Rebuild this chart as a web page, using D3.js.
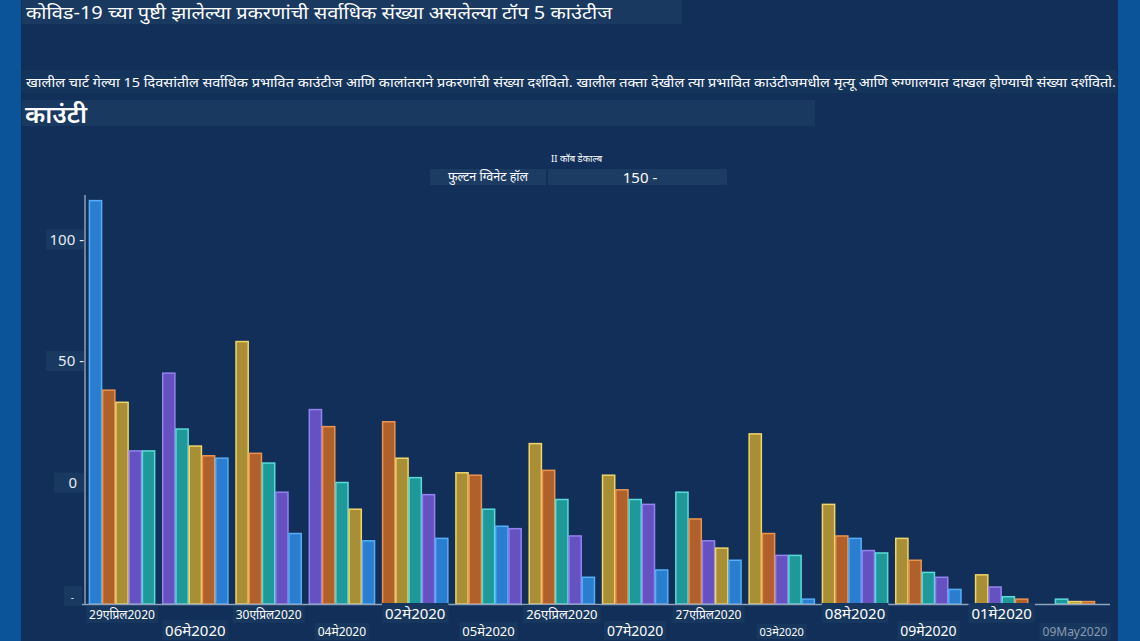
<!DOCTYPE html>
<html>
<head>
<meta charset="utf-8">
<script src="https://cdn.jsdelivr.net/npm/d3@7"></script>
<style>
  body { margin: 0; background: #0b5499; }
  svg text { font-family: "Noto Sans", "Noto Sans Devanagari", "Lato", sans-serif; }
</style>
</head>
<body>
<script>
var dates = ["29एप्रिल2020","06मे2020","30एप्रिल2020","04मे2020","02मे2020","05मे2020","26एप्रिल2020",
             "07मे2020","27एप्रिल2020","03मे2020","08मे2020","09मे2020","01मे2020","09May2020"];

var counties = ["फुल्टन","हॉल","ग्विनेट","कॉब","डेकाल्ब"];

var fulton   = [166, 60,  29, 26, 27, 32, 11, 14, 18,  2, 27,  6,  0, 0];
var hall     = [ 83, 65, 108, 39, 60, 54, 66, 53, 23, 70, 41, 27, 12, 1];
var gwinnett = [ 88, 61,  62, 73, 75, 53, 55, 47, 35, 29, 28, 18,  2, 1];
var cobb     = [ 63, 95,  46, 80, 45, 31, 28, 41, 26, 20, 22, 11,  7, 0];
var dekalb   = [ 63, 72,  58, 50, 52, 39, 43, 43, 46, 20, 21, 13,  3, 2];

var yTicks = [0, 50, 100, 150];
var yTickLabels = ["-", "0", "50 -", "100 -"];

var title = "कोविड-19 च्या पुष्टी झालेल्या प्रकरणांची सर्वाधिक संख्या असलेल्या टॉप 5 काउंटीज";
var subtitle = "खालील चार्ट गेल्या 15 दिवसांतील सर्वाधिक प्रभावित काउंटीज आणि कालांतराने प्रकरणांची संख्या दर्शवितो. खालील तक्ता देखील त्या प्रभावित काउंटीजमधील मृत्यू आणि रुग्णालयात दाखल होण्याची संख्या दर्शवितो.";
var heading = "काउंटी";

var series = [fulton, hall, gwinnett, cobb, dekalb];
var fills   = ["#2a7dcf", "#a88f36", "#b0602a", "#6551c0", "#1e9898"];
var strokes = ["#55aef6", "#f0d56a", "#eb9450", "#9384f0", "#5cdada"];
var labelSizes = [12, 15, 12, 12, 15, 13, 13, 14, 12, 11, 15, 14, 15, 12];

var W = 1140, H = 641;
var svg = d3.select("body").append("svg")
    .attr("width", W)
    .attr("height", H);

// page background and panel
svg.append("rect").attr("width", W).attr("height", H).attr("fill", "#0b5499");
svg.append("rect")
    .attr("x", 21).attr("y", 0)
    .attr("width", 1097).attr("height", H)
    .attr("fill", "#112f58");

// header texts with their boxes
svg.append("rect").attr("x", 22).attr("y", 0).attr("width", 660).attr("height", 24).attr("fill", "#1a3960");
svg.append("text").text(title)
    .attr("x", 26).attr("y", 19)
    .attr("fill", "#ffffff").attr("font-size", 18)
    .attr("textLength", 586).attr("lengthAdjust", "spacingAndGlyphs");

svg.append("rect").attr("x", 22).attr("y", 70).attr("width", 1095).attr("height", 23).attr("fill", "#15345c");
svg.append("text").text(subtitle)
    .attr("x", 26).attr("y", 87)
    .attr("fill", "#ffffff").attr("font-size", 13)
    .attr("textLength", 1090).attr("lengthAdjust", "spacingAndGlyphs");

svg.append("rect").attr("x", 22).attr("y", 100).attr("width", 793).attr("height", 26).attr("fill", "#1a3960");
svg.append("text").text(heading)
    .attr("x", 25).attr("y", 123)
    .attr("fill", "#ffffff").attr("font-size", 24).attr("font-weight", 600)
    .attr("textLength", 62).attr("lengthAdjust", "spacingAndGlyphs");

// scales
var baseY = 604;
var y = d3.scaleLinear().domain([0, 150]).range([baseY, 239.5]);

var x0 = d3.scaleBand()
    .domain(dates)
    .range([85, 1112])
    .paddingInner(0.11)
    .paddingOuter(0.06);

var barW = x0.bandwidth() / counties.length;

// legend (as it appears)
svg.append("text").text("II " + counties[3] + " " + counties[4])
    .attr("x", 551).attr("y", 162)
    .attr("fill", "#ffffff").attr("font-size", 9.5);
svg.append("rect").attr("x", 430).attr("y", 169).attr("width", 116).attr("height", 16).attr("fill", "#1c3c63");
svg.append("rect").attr("x", 548).attr("y", 169).attr("width", 179).attr("height", 16).attr("fill", "#1c3c63");
svg.append("text").text(counties[0] + " " + counties[2] + " " + counties[1])
    .attr("x", 488).attr("y", 181)
    .attr("text-anchor", "middle")
    .attr("fill", "#ffffff").attr("font-size", 12.5);
svg.append("text").text("150 -")
    .attr("x", 640).attr("y", 183)
    .attr("text-anchor", "middle")
    .attr("fill", "#ffffff").attr("font-size", 15);

// bars: each date sorted high to low, centred in its band
var groups = svg.selectAll("g.grp")
    .data(dates)
    .enter().append("g")
    .attr("class", "grp");

groups.each(function(d, i) {
    var items = series.map(function(s, k) { return {k: k, v: s[i]}; })
        .filter(function(e) { return e.v > 0; })
        .sort(function(a, b) { return b.v - a.v; });
    var c = x0(d) + x0.bandwidth() / 2;
    var x1 = d3.scaleBand()
        .domain(d3.range(items.length))
        .range([c - items.length * barW / 2, c + items.length * barW / 2])
        .paddingInner(0.08);
    d3.select(this).selectAll("rect")
        .data(items)
        .enter().append("rect")
        .attr("x", function(e, j) { return x1(j); })
        .attr("width", x1.bandwidth())
        .attr("y", function(e) { return y(e.v); })
        .attr("height", function(e) { return y(0) - y(e.v); })
        .attr("fill", function(e) { return fills[e.k]; })
        .attr("stroke", function(e) { return strokes[e.k]; })
        .attr("stroke-width", 1.5);
});

// axes lines
svg.append("line")
    .attr("x1", 85).attr("x2", 85)
    .attr("y1", 195).attr("y2", baseY)
    .attr("stroke", "#a9b9cc").attr("stroke-width", 1.2);
svg.append("line")
    .attr("x1", 78).attr("x2", 1110)
    .attr("y1", baseY + 0.5).attr("y2", baseY + 0.5)
    .attr("stroke", "#8ea3bb").attr("stroke-width", 1.5);

// y tick labels
var yl = svg.selectAll("g.ytick")
    .data(yTicks)
    .enter().append("g")
    .attr("class", "ytick");
yl.append("rect")
    .attr("x", function(d, i) { return i == 1 ? 54 : (i == 0 ? 64 : 46); })
    .attr("y", function(d) { return y(d) - (d == 0 ? 18 : 10); })
    .attr("width", function(d, i) { return i == 1 ? 30 : (i == 0 ? 18 : 38); })
    .attr("height", 20)
    .attr("fill", "#1a3960");
yl.append("text")
    .text(function(d, i) { return yTickLabels[i]; })
    .attr("x", function(d, i) { return i == 1 ? 77 : (i == 0 ? 74 : 84); })
    .attr("y", function(d) { return y(d) + (d == 0 ? -3 : 5); })
    .attr("text-anchor", "end")
    .attr("fill", "#e6ecf3")
    .attr("font-size", function(d) { return d == 0 ? 10 : 15; });

// x labels, staggered in two rows
var xl = svg.selectAll("g.xlab")
    .data(dates)
    .enter().append("g")
    .attr("class", "xlab");
xl.append("text")
    .text(function(d) { return d; })
    .attr("x", function(d) { return x0(d) + x0.bandwidth() / 2; })
    .attr("y", function(d, i) { return i % 2 == 0 ? 619 : 636; })
    .attr("text-anchor", "middle")
    .attr("fill", function(d, i) { return i == dates.length - 1 ? "#8a9bb0" : "#ffffff"; })
    .attr("font-size", function(d, i) { return labelSizes[i]; })
    .each(function() {
        var b = this.getBBox();
        d3.select(this.parentNode).insert("rect", "text")
            .attr("x", b.x - 3).attr("y", b.y)
            .attr("width", b.width + 6).attr("height", b.height)
            .attr("fill", "#18375e");
    });
</script>
</body>
</html>
